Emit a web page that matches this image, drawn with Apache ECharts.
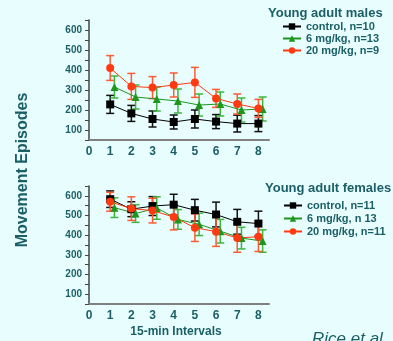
<!DOCTYPE html>
<html>
<head>
<meta charset="utf-8">
<script src="https://cdn.jsdelivr.net/npm/echarts@6/dist/echarts.min.js"></script>
<style>
  html, body { margin: 0; padding: 0; background: #e8fefe; }
  #main { width: 393px; height: 341px; }
</style>
</head>
<body>
<div id="main"></div>
<script>
    var intervals = [1, 2, 3, 4, 5, 6, 7, 8];

    // young adult males
    var maleControl = [228, 183, 155, 140, 155, 142, 132, 132];
    var maleControlErr = [45, 40, 40, 35, 45, 35, 42, 40];
    var male6 = [315, 265, 255, 245, 225, 230, 200, 205];
    var male6Err = [55, 60, 60, 60, 55, 60, 60, 60];
    var male20 = [410, 318, 312, 325, 338, 258, 230, 208];
    var male20Err = [62, 65, 55, 60, 75, 45, 50, 45];

    // young adult females
    var femControl = [583, 532, 548, 555, 527, 505, 468, 459];
    var femControlErr = [42, 38, 48, 53, 55, 63, 63, 63];
    var fem6 = [540, 510, 538, 480, 455, 420, 385, 370];
    var fem6Err = [50, 45, 57, 50, 57, 60, 55, 57];
    var fem20 = [570, 535, 525, 492, 438, 418, 386, 392];
    var fem20Err = [48, 60, 63, 65, 70, 75, 73, 75];

    var yTicks = [100, 200, 300, 400, 500, 600];
    var xTicks = [0, 1, 2, 3, 4, 5, 6, 7, 8];

    var teal = '#1b5f66';
    var black = '#000000', green = '#1e961e', red = '#ff3a12';

    function pts(vals, shift) {
        return intervals.map(function (x, i) { return [x + shift, vals[i]]; });
    }
    function bars(vals, errs, shift) {
        return intervals.map(function (x, i) { return [x + shift, vals[i] - errs[i], vals[i] + errs[i]]; });
    }
    function errSeries(idx, data, color) {
        return {
            type: 'custom', xAxisIndex: idx, yAxisIndex: idx, z: 1,
            encode: { x: 0, y: [1, 2] },
            data: data,
            renderItem: function (params, api) {
                var top = api.coord([api.value(0), api.value(2)]);
                var bot = api.coord([api.value(0), api.value(1)]);
                var w = 4;
                var st = { stroke: color, lineWidth: 1.5 };
                return {
                    type: 'group',
                    children: [
                        { type: 'line', shape: { x1: top[0], y1: top[1], x2: bot[0], y2: bot[1] }, style: st },
                        { type: 'line', shape: { x1: top[0] - w, y1: top[1], x2: top[0] + w, y2: top[1] }, style: st },
                        { type: 'line', shape: { x1: bot[0] - w, y1: bot[1], x2: bot[0] + w, y2: bot[1] }, style: st }
                    ]
                };
            }
        };
    }
    function lineSeries(idx, name, data, color, symbol) {
        return {
            name: name, type: 'line', xAxisIndex: idx, yAxisIndex: idx, z: 3,
            data: data, symbol: symbol, symbolSize: 8,
            itemStyle: { color: color },
            lineStyle: { color: color, width: 1 }
        };
    }
    function xAx(idx) {
        return {
            type: 'value', gridIndex: idx, min: 0, max: 8.5, interval: 1,
            axisLine: { lineStyle: { color: '#808080', width: 2 } },
            axisTick: { show: false },
            splitLine: { show: false },
            axisLabel: {
                color: teal, fontWeight: 'bold', fontSize: 12, fontFamily: 'Liberation Sans', margin: 6,
                formatter: function (v) { return xTicks.indexOf(v) >= 0 ? String(v) : ''; }
            }
        };
    }
    function yAx(idx) {
        return {
            type: 'value', gridIndex: idx, min: 50, max: 650, interval: 50,
            axisLine: { show: true, lineStyle: { color: '#444', width: 1.5 } },
            axisTick: { show: true, length: 4, lineStyle: { color: '#444' } },
            splitLine: { show: false },
            axisLabel: {
                color: teal, fontWeight: 'bold', fontSize: 10, fontFamily: 'Liberation Sans', margin: 7,
                formatter: function (v) { return yTicks.indexOf(v) >= 0 ? String(v) : ''; }
            }
        };
    }
    var legendText = { color: teal, fontWeight: 'bold', fontSize: 11, fontFamily: 'Liberation Sans' };
    var titleText = { color: teal, fontWeight: 'bold', fontSize: 13, fontFamily: 'Liberation Sans' };

    var myChart = echarts.init(document.getElementById('main'));
    var option = {
        backgroundColor: '#e8fefe',
        animation: false,
        title: [
            { text: 'Young adult males', left: 263, top: 2, textStyle: titleText },
            { text: 'Young adult females', left: 260, top: 177, textStyle: titleText }
        ],
        legend: [
            {
                orient: 'vertical', left: 277, top: 16, itemGap: 1, itemWidth: 18, itemHeight: 8,
                textStyle: legendText,
                data: ['control, n=10', '6 mg/kg, n=13', '20 mg/kg, n=9']
            },
            {
                orient: 'vertical', left: 278, top: 195, itemGap: 2, itemWidth: 18, itemHeight: 8,
                textStyle: legendText,
                data: ['control, n=11', '6 mg/kg, n 13', '20 mg/kg, n=11']
            }
        ],
        grid: [
            { left: 89, top: 20, width: 180, height: 120 },
            { left: 89, top: 186, width: 180, height: 118 }
        ],
        xAxis: [xAx(0), xAx(1)],
        yAxis: [yAx(0), yAx(1)],
        graphic: [
            {
                type: 'text', x: 15, y: 170, rotation: Math.PI / 2,
                style: { text: 'Movement Episodes', fill: teal, font: 'bold 16px "Liberation Sans"', align: 'center', verticalAlign: 'top' }
            },
            {
                type: 'text', x: 176, y: 326,
                style: { text: '15-min Intervals', fill: teal, font: 'bold 12px "Liberation Sans"', align: 'center', verticalAlign: 'top' }
            },
            {
                type: 'text', x: 312, y: 331,
                style: { text: 'Rice et al.', fill: teal, font: 'italic 17px "Liberation Sans"', align: 'left', verticalAlign: 'top' }
            }
        ],
        series: [
            errSeries(0, bars(maleControl, maleControlErr, 0), '#111'),
            errSeries(0, bars(male6, male6Err, 0.2), '#3fb53f'),
            errSeries(0, bars(male20, male20Err, 0), '#ff5a32'),
            lineSeries(0, 'control, n=10', pts(maleControl, 0), black, 'rect'),
            lineSeries(0, '6 mg/kg, n=13', pts(male6, 0.2), green, 'triangle'),
            lineSeries(0, '20 mg/kg, n=9', pts(male20, 0), red, 'circle'),

            errSeries(1, bars(femControl, femControlErr, 0), '#111'),
            errSeries(1, bars(fem6, fem6Err, 0.2), '#3fb53f'),
            errSeries(1, bars(fem20, fem20Err, 0), '#ff5a32'),
            lineSeries(1, 'control, n=11', pts(femControl, 0), black, 'rect'),
            lineSeries(1, '6 mg/kg, n 13', pts(fem6, 0.2), green, 'triangle'),
            lineSeries(1, '20 mg/kg, n=11', pts(fem20, 0), red, 'circle')
        ]
    };
    myChart.setOption(option);
</script>
</body>
</html>
